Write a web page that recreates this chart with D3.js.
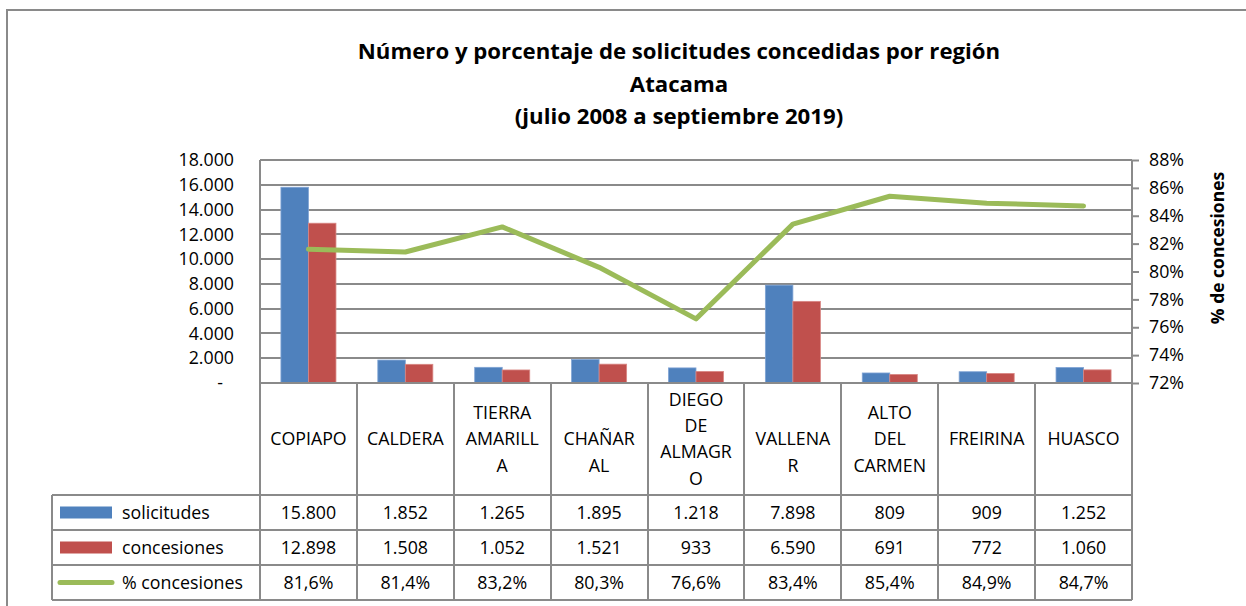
<!DOCTYPE html>
<html><head><meta charset="utf-8">
<script src="https://cdn.jsdelivr.net/npm/d3@7"></script>
<style>
html,body{margin:0;padding:0;background:#fff;}
svg{display:block;font-family:"Open Sans",sans-serif;}
</style></head>
<body><svg id="c" width="1246" height="606"></svg>
<script>
const categories = ["COPIAPO","CALDERA","TIERRA AMARILLA","CHAÑARAL","DIEGO DE ALMAGRO","VALLENAR","ALTO DEL CARMEN","FREIRINA","HUASCO"];
const categoryLines = [["COPIAPO"],["CALDERA"],["TIERRA","AMARILL","A"],["CHAÑAR","AL"],["DIEGO","DE","ALMAGR","O"],["VALLENA","R"],["ALTO","DEL","CARMEN"],["FREIRINA"],["HUASCO"]];
const solicitudes = [15800,1852,1265,1895,1218,7898,809,909,1252];
const concesiones = [12898,1508,1052,1521,933,6590,691,772,1060];
const pctConcesiones = [81.6,81.4,83.2,80.3,76.6,83.4,85.4,84.9,84.7];
const leftTicks = [0,2000,4000,6000,8000,10000,12000,14000,16000,18000];
const rightTicks = [72,74,76,78,80,82,84,86,88];
const seriesNames = ["solicitudes","concesiones","% concesiones"];
const titleLines = ["Número y porcentaje de solicitudes concedidas por región","Atacama","(julio 2008 a septiembre 2019)"];
const rightAxisTitle = "% de concesiones";

const colors = {sol:"#4F81BD", con:"#C0504D", pct:"#9BBB59", grid:"#8a8a8a", text:"#000"};
const loc = d3.formatLocale({decimal:",", thousands:".", grouping:[3], currency:["$",""]});
const fmtInt = loc.format(",.0f");
const fmtPct = v => loc.format(".1f")(v) + "%";

const svg = d3.select("#c");
const L = 260, R = 1132, T = 160, B = 383;
const FS = 17.8;

// outer border
svg.append("rect").attr("x",7).attr("y",10).attr("width",1300).attr("height",700)
  .attr("fill","none").attr("stroke","#8a8a8a").attr("stroke-width",2);

// title
svg.append("g").selectAll("text").data(titleLines).join("text")
  .attr("x",679).attr("y",(d,i)=>59+i*32.5).attr("text-anchor","middle")
  .attr("font-weight","bold").attr("font-size",22.2).attr("fill",colors.text).text(d=>d);

const y = d3.scaleLinear().domain([0,18000]).range([B,T]);
const yR = d3.scaleLinear().domain([72,88]).range([B,T]);
const x0 = d3.scaleBand().domain(categories).range([L,R]).paddingInner(0.432).paddingOuter(0.216);
const x1 = d3.scaleBand().domain(["sol","con"]).range([0,x0.bandwidth()]);
const step = x0.step();

// grid lines
svg.append("g").selectAll("line").data(leftTicks.filter(d=>d>0)).join("line")
  .attr("x1",L).attr("x2",R).attr("y1",d=>Math.round(y(d))).attr("y2",d=>Math.round(y(d)))
  .attr("stroke",colors.grid).attr("stroke-width",2);

// left axis labels
const la = svg.append("g").attr("transform",`translate(${L},0)`)
  .call(d3.axisLeft(y).tickValues(leftTicks).tickSize(0).tickPadding(26)
    .tickFormat(d=> d===0 ? "-" : fmtInt(d)));
la.select(".domain").remove();
la.selectAll("text").attr("font-size",FS).attr("font-family","Open Sans").attr("fill",colors.text)
  .attr("x",d=>d===0?-37:-26);

// right axis
const ra = svg.append("g").attr("transform",`translate(${R},0)`)
  .call(d3.axisRight(yR).tickValues(rightTicks).tickSize(7).tickPadding(10).tickFormat(d=>d+"%"));
ra.select(".domain").remove();
ra.selectAll("line").attr("stroke",colors.grid).attr("stroke-width",2);
ra.selectAll("text").attr("font-size",FS).attr("font-family","Open Sans").attr("fill",colors.text);

svg.append("text").attr("transform",`translate(1224,248) rotate(-90)`).attr("text-anchor","middle")
  .attr("font-weight","bold").attr("font-size",17.5).attr("fill",colors.text).text(rightAxisTitle);

// bars
const barsG = svg.append("g");
const groups = barsG.selectAll("g").data(categories).join("g")
  .attr("transform",d=>`translate(${x0(d)},0)`);
groups.append("rect").attr("x",x1("sol")).attr("width",x1.bandwidth())
  .attr("y",(d,i)=>y(solicitudes[i])).attr("height",(d,i)=>B-y(solicitudes[i]))
  .attr("fill",colors.sol).attr("stroke","#7fa3d4").attr("stroke-width",0.8);
groups.append("rect").attr("x",x1("con")).attr("width",x1.bandwidth())
  .attr("y",(d,i)=>y(concesiones[i])).attr("height",(d,i)=>B-y(concesiones[i]))
  .attr("fill",colors.con).attr("stroke","#d98784").attr("stroke-width",0.8);

// line
const line = d3.line().x((d,i)=>x0(categories[i])+x0.bandwidth()/2).y(d=>yR(d));
svg.append("path").datum(pctConcesiones).attr("d",line).attr("fill","none")
  .attr("stroke",colors.pct).attr("stroke-width",5).attr("stroke-linejoin","round").attr("stroke-linecap","round");

// plot frame
svg.append("line").attr("x1",L).attr("x2",L).attr("y1",T).attr("y2",600).attr("stroke",colors.grid).attr("stroke-width",2);
svg.append("line").attr("x1",R).attr("x2",R).attr("y1",T).attr("y2",600).attr("stroke",colors.grid).attr("stroke-width",2);
svg.append("line").attr("x1",L).attr("x2",R).attr("y1",T).attr("y2",T).attr("stroke",colors.grid).attr("stroke-width",2);

// table
const rowY = [495,530,565,600];
const tbl = svg.append("g");
tbl.append("line").attr("x1",L).attr("x2",R).attr("y1",B).attr("y2",B).attr("stroke",colors.grid).attr("stroke-width",2);
tbl.selectAll("line.h").data(rowY).join("line").attr("class","h")
  .attr("x1",52).attr("x2",R).attr("y1",d=>d).attr("y2",d=>d).attr("stroke",colors.grid).attr("stroke-width",2);
tbl.selectAll("line.v").data(categories.slice(1)).join("line").attr("class","v")
  .attr("x1",d=>Math.round(x0(d)-x0.paddingOuter()*step)).attr("x2",d=>Math.round(x0(d)-x0.paddingOuter()*step))
  .attr("y1",B).attr("y2",600).attr("stroke",colors.grid).attr("stroke-width",2);
tbl.append("line").attr("x1",52).attr("x2",52).attr("y1",495).attr("y2",600).attr("stroke",colors.grid).attr("stroke-width",2);

// header labels
const lh = 26.3, hc = (B+495)/2;
categories.forEach((c,i)=>{
  const lines = categoryLines[i], n = lines.length;
  const off = n===2 ? 0 : (n-1)/2;
  const cx = x0(c)+x0.bandwidth()/2;
  tbl.append("g").selectAll("text").data(lines).join("text")
    .attr("x",cx).attr("y",(d,j)=>hc+(j-off)*lh).attr("dy","0.35em").attr("text-anchor","middle")
    .attr("font-size",FS).attr("fill",colors.text).text(d=>d);
});

// rows
const rows = [
  {name:seriesNames[0], vals:solicitudes.map(fmtInt), kind:"sol"},
  {name:seriesNames[1], vals:concesiones.map(fmtInt), kind:"con"},
  {name:seriesNames[2], vals:pctConcesiones.map(fmtPct), kind:"pct"}
];
rows.forEach((r,ri)=>{
  const cy = (rowY[ri]+rowY[ri+1])/2;
  if(r.kind==="pct"){
    tbl.append("line").attr("x1",60).attr("x2",112).attr("y1",cy).attr("y2",cy)
      .attr("stroke",colors.pct).attr("stroke-width",5).attr("stroke-linecap","round");
  } else {
    tbl.append("rect").attr("x",60).attr("y",cy-6).attr("width",52).attr("height",12)
      .attr("fill",colors[r.kind]);
  }
  tbl.append("text").attr("x",122).attr("y",cy).attr("dy","0.35em").attr("font-size",FS)
    .attr("fill",colors.text).text(r.name);
  tbl.append("g").selectAll("text").data(r.vals).join("text")
    .attr("x",(d,i)=>x0(categories[i])+x0.bandwidth()/2).attr("y",cy).attr("dy","0.35em")
    .attr("text-anchor","middle").attr("font-size",FS).attr("fill",colors.text).text(d=>d);
});
</script></body></html>
